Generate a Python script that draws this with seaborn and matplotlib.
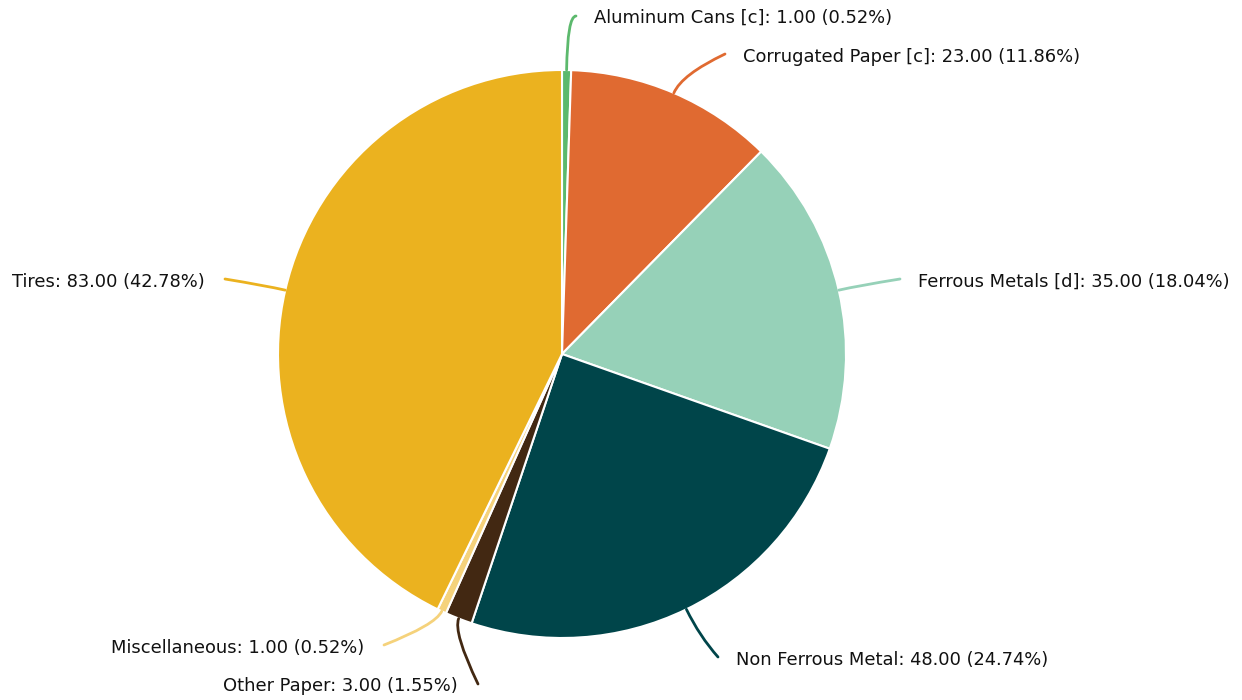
import numpy as np
import matplotlib
matplotlib.use("Agg")
import matplotlib.pyplot as plt
import seaborn as sns
from matplotlib.path import Path
from matplotlib.patches import PathPatch

categories = ["Aluminum Cans [c]", "Corrugated Paper [c]", "Ferrous Metals [d]",
              "Non Ferrous Metal", "Other Paper", "Miscellaneous", "Tires"]
values = [1, 23, 35, 48, 3, 1, 83]
colors_hex = ["#5cb96d", "#e06a31", "#96d1b8", "#00454a", "#422812", "#f5d27b", "#ebb21f"]

# label layout (pixel coords, y measured from top)
label_end_x = [576, 725, 900, 718, 478, 384, 225]
label_end_y = [16, 54, 279, 657, 684, 645, 279]
text_y = [18, 57, 282, 660, 686, 648, 282]
elbow_len = [54, 20, 20, 30, 15, 15, 20]

sns.set_theme(style="white")
plt.rcParams['font.family'] = ['DejaVu Sans']

W, H = 1242, 700
fig = plt.figure(figsize=(W / 100, H / 100), dpi=100)
ax = fig.add_axes([0, 0, 1, 1])
cx, cy, R = 562, H - 354, 284
palette = sns.color_palette(colors_hex)
wedges, _ = ax.pie(values, colors=palette, startangle=90, counterclock=False,
                   center=(cx, cy), radius=R,
                   wedgeprops=dict(edgecolor='white', linewidth=1.5))
ax.set_xlim(0, W)
ax.set_ylim(0, H)
ax.set_aspect('auto')
ax.axis('off')

total = sum(values)
center = np.array([cx, cy], dtype=float)
for i, w in enumerate(wedges):
    theta = np.deg2rad((w.theta1 + w.theta2) / 2)
    u = np.array([np.cos(theta), np.sin(theta)])
    A = center + R * u
    B = center + (R + elbow_len[i]) * u
    C = np.array([label_end_x[i], H - label_end_y[i]], dtype=float)
    path = Path([A, B, C], [Path.MOVETO, Path.CURVE3, Path.CURVE3])
    ax.add_patch(PathPatch(path, fill=False, edgecolor=palette[i], lw=2,
                           capstyle='round', zorder=1))
    label = f"{categories[i]}: {values[i]:.2f} ({values[i] / total * 100:.2f}%)"
    if u[0] >= 0:
        ax.text(C[0] + 18, H - text_y[i], label, ha='left', va='center',
                fontsize=12.85, color='#111111', family=['DejaVu Sans'])
    else:
        ax.text(C[0] - 20, H - text_y[i], label, ha='right', va='center',
                fontsize=12.85, color='#111111', family=['DejaVu Sans'])

fig.savefig("out.png", dpi=100)
